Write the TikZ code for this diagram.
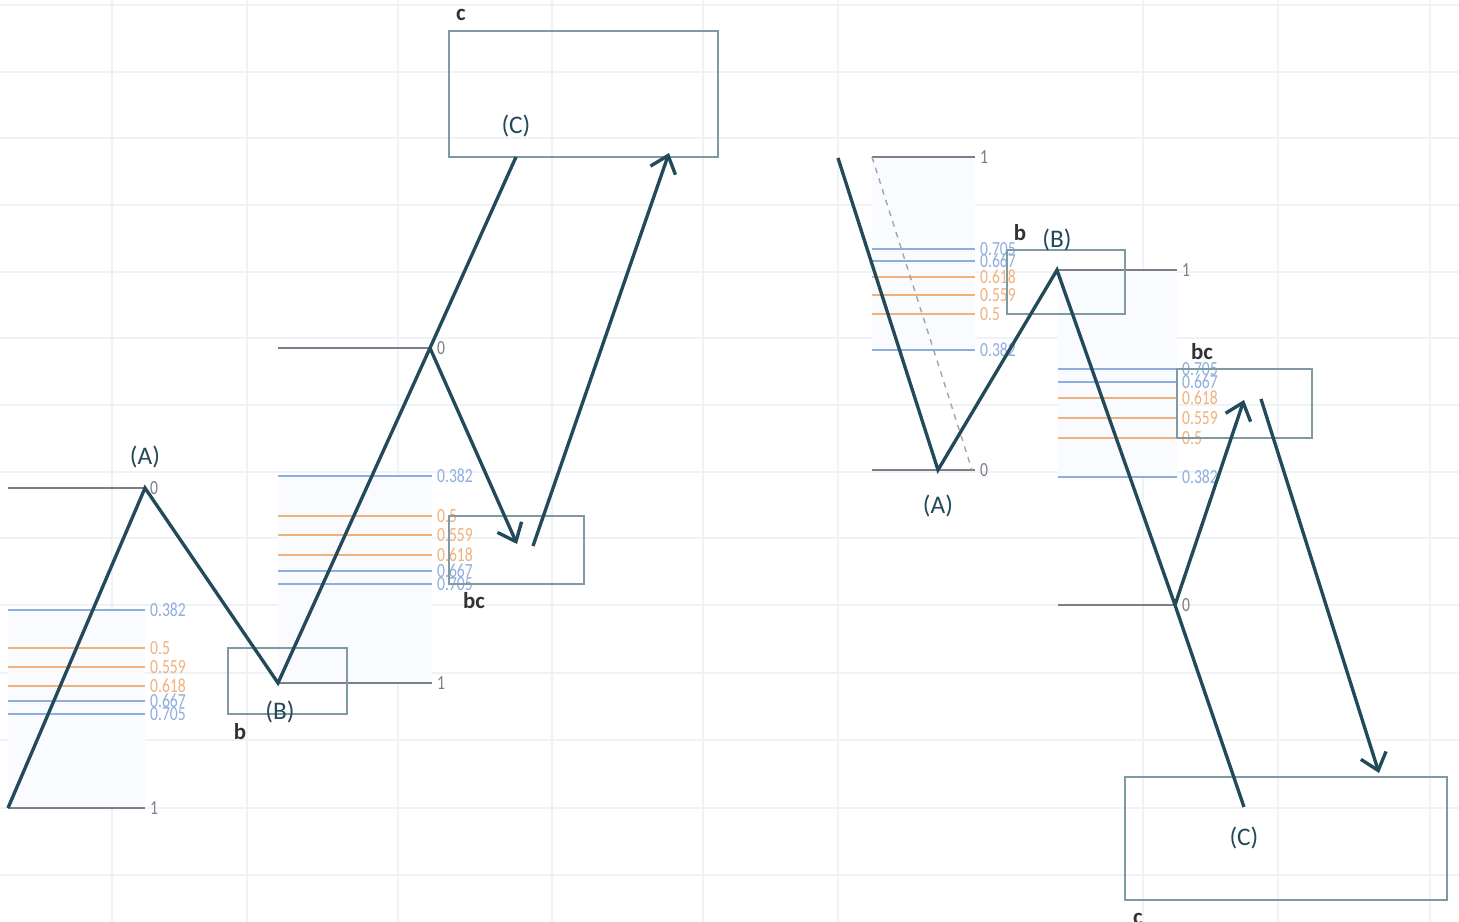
\documentclass[tikz,border=0pt]{standalone}
\usepackage{fontspec}
\setmainfont{Carlito}
\newfontfamily\levelfont[FakeStretch=0.78]{Carlito}
\usetikzlibrary{arrows.meta}
\definecolor{wavecol}{HTML}{224A5A}
\definecolor{zonecol}{HTML}{7F9AA3}
\definecolor{fibgray}{HTML}{7C7F88}
\definecolor{fibblue}{HTML}{8FAEE0}
\definecolor{fiborange}{HTML}{F0B27C}
\definecolor{fibfill}{HTML}{FAFBFE}
\definecolor{gridcol}{HTML}{F0F3F5}
\tikzset{
    wave/.style={draw=wavecol, line width=0.95pt, line join=miter},
    wave arrow/.style={wave, -{Straight Barb[length=4.5pt,width=7.5pt]}},
    zone/.style={draw=zonecol, line width=0.8pt},
    fib/.style={line width=0.55pt},
    fib label/.style={anchor=west, inner sep=1.2pt, font=\levelfont\fontsize{5.7}{6}\selectfont},
    wave label/.style={font=\fontsize{7.2}{8}\selectfont, text=wavecol},
    zone label/.style={font=\bfseries\fontsize{6.5}{7}\selectfont, text=black!80},
}
% #1 name, #2 x left, #3 x right, #4 y of level 0, #5 y of level 1
\newcommand\fibgrid[5]{%
    \fill[fibfill] (#2,{#4+0.382*(#5-#4)}) rectangle (#3,#5);
    \draw[fib,fibgray] (#2,#4) -- (#3,#4) node[fib label,text=fibgray] (#1-0) {0};
    \draw[fib,fibgray] (#2,#5) -- (#3,#5) node[fib label,text=fibgray] (#1-1) {1};
    \foreach \lv/\col [count=\k] in {0.382/fibblue,0.5/fiborange,0.559/fiborange,0.618/fiborange,0.667/fibblue,0.705/fibblue}
        \draw[fib,\col] (#2,{round(#4+\lv*(#5-#4))}) -- (#3,{round(#4+\lv*(#5-#4))}) node[fib label,text=\col] (#1-l\k) {\lv};
}
\begin{document}
\begin{tikzpicture}[x=0.01cm, y=-0.01cm]
    \useasboundingbox (0,0) rectangle (1459,922);
    \fill[white] (0,0) rectangle (1459,922);
    \foreach \gy in {5,72,138,205,272,338,405,472,538,605,673,740,808,875}
        \draw[gridcol, line width=0.4pt] (0,\gy) -- (1459,\gy);
    \foreach \gx in {112,247,398,552,703,838,1143,1278,1430}
        \draw[gridcol, line width=0.4pt] (\gx,0) -- (\gx,922);

    % left count
    \fibgrid{fl}{8}{145}{488}{808}
    \fibgrid{fm}{278}{432}{348}{683}
    \draw[zone] (228,648) rectangle (347,714);
    \draw[zone] (449,516) rectangle (584,584);
    \draw[zone] (449,31) rectangle (718,157);
    \coordinate (s1) at (8,808);
    \coordinate (a1) at (145,488);
    \coordinate (b1) at (278,683);
    \coordinate (m1) at (430,348);
    \coordinate (c1) at (516,157);
    \coordinate (t1) at (517,544);
    \coordinate (u1) at (533,546);
    \coordinate (v1) at (669,153);
    \draw[wave] (s1) -- (a1) -- (b1) -- (m1) -- (c1);
    \draw[wave arrow] (m1) -- (t1);
    \draw[wave arrow] (u1) -- (v1);
    \node[wave label] (A1) at (145,457) {(A)};
    \node[wave label] (B1) at (280,712) {(B)};
    \node[wave label] (C1) at (516,126) {(C)};
    \node[zone label] (zb1) at (240,732) {b};
    \node[zone label] (zbc1) at (474,601) {bc};
    \node[zone label] (zc1) at (461,15) {c};

    % right count
    \fibgrid{fr}{872}{975}{470}{157}
    \fibgrid{fs}{1058}{1177}{605}{270}
    \draw[fibgray!70, dashed, dash pattern=on 1.6pt off 1.6pt, line width=0.4pt] (872,157) -- (972,470);
    \draw[zone] (1007,250) rectangle (1125,314);
    \draw[zone] (1177,369) rectangle (1312,438);
    \draw[zone] (1125,777) rectangle (1447,900);
    \coordinate (s2) at (838,158);
    \coordinate (a2) at (938,470);
    \coordinate (b2) at (1057,270);
    \coordinate (m2) at (1175,605);
    \coordinate (c2) at (1244,807);
    \coordinate (t2) at (1244,400);
    \coordinate (u2) at (1261,399);
    \coordinate (v2) at (1379,773);
    \draw[wave] (s2) -- (a2) -- (b2) -- (m2) -- (c2);
    \draw[wave arrow] (m2) -- (t2);
    \draw[wave arrow] (u2) -- (v2);
    \node[wave label] (A2) at (938,506) {(A)};
    \node[wave label] (B2) at (1057,240) {(B)};
    \node[wave label] (C2) at (1244,838) {(C)};
    \node[zone label] (zb2) at (1020,233) {b};
    \node[zone label] (zbc2) at (1202,352) {bc};
    \node[zone label, anchor=base] (zc2) at (1138,925) {c};
\end{tikzpicture}
\end{document}
